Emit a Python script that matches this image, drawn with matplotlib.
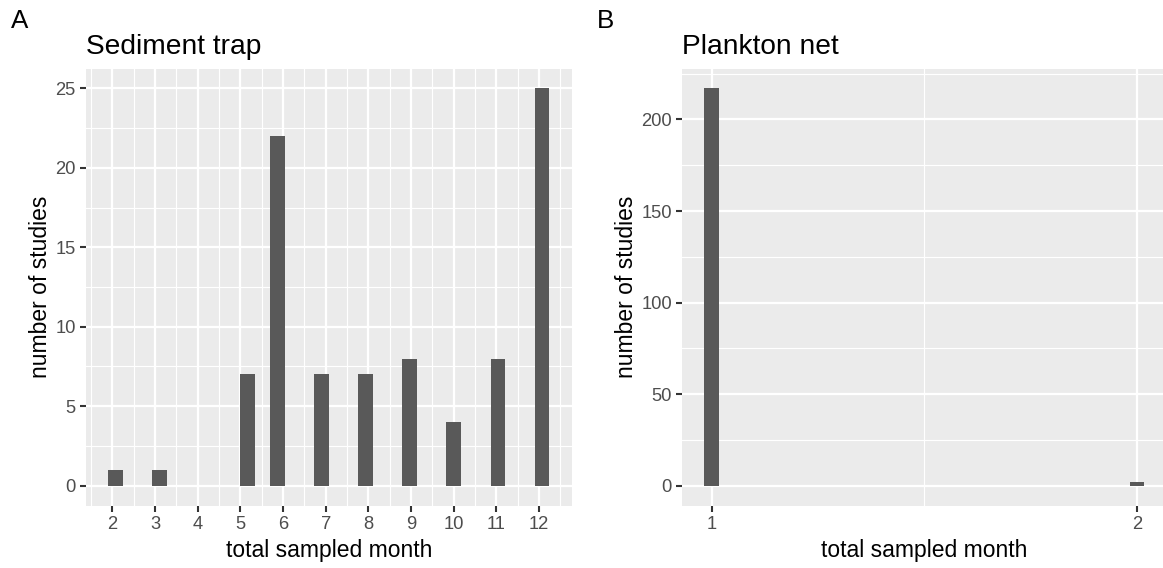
import math
import numpy as np
import matplotlib
matplotlib.use("Agg")
import matplotlib.pyplot as plt
from matplotlib.ticker import FixedLocator

plt.rcParams["font.family"] = ["Liberation Sans", "DejaVu Sans"]

# Sediment trap: total sampled months vs number of studies
trap_months = [2, 3, 4, 5, 6, 7, 8, 9, 10, 11, 12]
trap_counts = [1, 1, 0, 7, 22, 7, 7, 8, 4, 8, 25]
trap_breaks = [2, 3, 4, 5, 6, 7, 8, 9, 10, 11, 12]
trap_yticks = [0, 5, 10, 15, 20, 25]

# Plankton net
net_months = [1, 2]
net_counts = [217, 2]
net_breaks = [1, 2]
net_yticks = [0, 50, 100, 150, 200]

DPI = 150
W, H = 1163, 568
PANEL_BG = "#EBEBEB"
BAR = "#595959"
TICK_TXT = "#4D4D4D"
TICK_LINE = "#333333"


def hist_bins(values, bins=30):
    """Bin layout of a 30-bin histogram (boundary at half a bin width)."""
    lo, hi = min(values), max(values)
    width = (hi - lo) / (bins - 1)
    boundary = width / 2
    origin = boundary + math.floor((lo - boundary) / width) * width
    n_edges = int(math.floor((hi + width * (1 - 1e-8) - origin) / width + 1e-9))
    last_edge = origin + n_edges * width
    centers = [origin + (math.floor((v - origin) / width) + 0.5) * width for v in values]
    return centers, width, (origin, last_edge)


def expand(lo, hi, mult=0.05):
    d = (hi - lo) * mult
    return lo - d, hi + d


def minor_of(major, lim):
    step = major[1] - major[0]
    ext = [major[0] - step] + list(major) + [major[-1] + step]
    mids = [(a + b) / 2 for a, b in zip(ext[:-1], ext[1:])]
    return [m for m in mids if lim[0] <= m <= lim[1]]


def px_axes(fig, left, top, right, bottom):
    return fig.add_axes([left / W, 1 - bottom / H, (right - left) / W, (bottom - top) / H])


def draw_panel(ax, months, counts, xbreaks, yticks):
    centers, width, (e0, e1) = hist_bins(months)
    xlim = expand(e0, e1)
    ylim = expand(0, max(counts))
    ax.set_facecolor(PANEL_BG)
    for s in ax.spines.values():
        s.set_visible(False)
    ax.set_xlim(*xlim)
    ax.set_ylim(*ylim)

    for m in minor_of(xbreaks, xlim):
        ax.axvline(m, color="white", lw=0.55, zorder=0.5)
    for m in minor_of(yticks, ylim):
        ax.axhline(m, color="white", lw=0.55, zorder=0.5)
    for b in xbreaks:
        ax.axvline(b, color="white", lw=1.1, zorder=0.6)
    for b in yticks:
        ax.axhline(b, color="white", lw=1.1, zorder=0.6)

    ax.bar(centers, counts, width=width, color=BAR, linewidth=0, zorder=2)

    ax.xaxis.set_major_locator(FixedLocator(xbreaks))
    ax.yaxis.set_major_locator(FixedLocator(yticks))
    ax.set_xticklabels([str(b) for b in xbreaks])
    ax.set_yticklabels([str(t) for t in yticks])
    ax.tick_params(axis="both", which="major", length=2.75, width=1.0,
                   color=TICK_LINE, labelcolor=TICK_TXT, labelsize=8.8, pad=2.2)
    ax.minorticks_off()
    ax.set_xlabel("total sampled month", fontsize=11, color="black", labelpad=3)
    ax.set_ylabel("number of studies", fontsize=11, color="black", labelpad=1.5)


fig = plt.figure(figsize=(W / DPI, H / DPI), dpi=DPI)
fig.patch.set_facecolor("white")

ax_a = px_axes(fig, 86, 68.5, 571.5, 505.5)
draw_panel(ax_a, trap_months, trap_counts, trap_breaks, trap_yticks)
ax_a.set_title("Sediment trap", loc="left", fontsize=13.5, pad=7)

ax_b = px_axes(fig, 682.3, 68.5, 1166.5, 505.5)
draw_panel(ax_b, net_months, net_counts, net_breaks, net_yticks)
ax_b.set_title("Plankton net", loc="left", fontsize=13.5, pad=7)

fig.text(11 / W, 1 - 21 / H, "A", fontsize=12.5, va="center", ha="left")
fig.text(597 / W, 1 - 21 / H, "B", fontsize=12.5, va="center", ha="left")

fig.savefig("out.png", dpi=DPI, facecolor="white")
